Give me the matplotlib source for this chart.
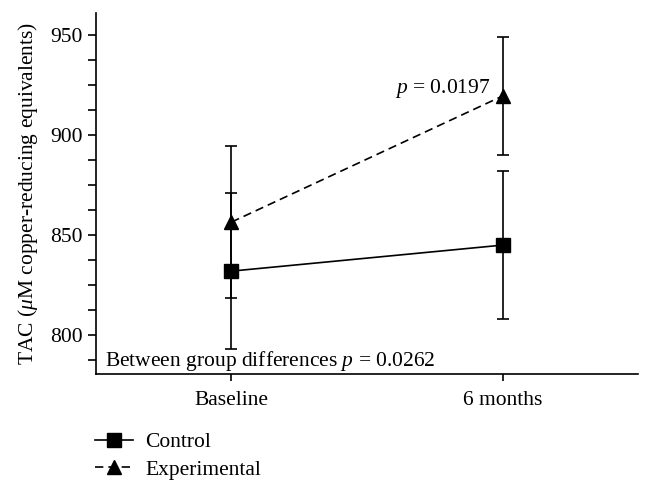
import matplotlib
matplotlib.use("Agg")
import matplotlib.pyplot as plt
from matplotlib.ticker import MultipleLocator
from matplotlib.lines import Line2D

plt.rcParams['font.family'] = ['Liberation Serif', 'DejaVu Serif']
plt.rcParams['mathtext.fontset'] = 'custom'
plt.rcParams['mathtext.it'] = 'Liberation Serif:italic'
plt.rcParams['mathtext.rm'] = 'Liberation Serif'

categories = ["Baseline", "6 months"]
control_mean = [832, 845]
control_err = [39, 37]
exp_mean = [856.5, 919.5]
exp_err = [38, 29.5]

FS = 15.5
fig = plt.figure(figsize=(6.52, 4.95), dpi=100)
ax = fig.add_axes([0.147, 0.244, 0.832, 0.730])

x = [1, 2]
dash = (0, (5, 3))
ax.errorbar(x, control_mean, yerr=control_err, color='black', lw=1.2,
            marker='s', markersize=10.5, capsize=4.6, capthick=1.2,
            elinewidth=1.2, linestyle='-')
ax.errorbar(x, exp_mean, yerr=exp_err, color='black', lw=1.2,
            marker='^', markersize=10.5, capsize=4.6, capthick=1.2,
            elinewidth=1.2, linestyle=dash)

ax.set_xlim(0.5, 2.5)
ax.set_ylim(780.5, 961)
ax.set_xticks(x)
ax.set_xticklabels(categories, fontsize=FS)
ax.yaxis.set_major_locator(MultipleLocator(50))
ax.yaxis.set_minor_locator(MultipleLocator(12.5))
ax.tick_params(axis='y', which='major', length=6, labelsize=FS, width=1.2)
ax.tick_params(axis='y', which='minor', length=6, width=1.2)
ax.tick_params(axis='x', length=5, width=1.2, pad=7)
for s in ['top', 'right']:
    ax.spines[s].set_visible(False)
for s in ['left', 'bottom']:
    ax.spines[s].set_linewidth(1.2)

ax.set_ylabel(r'TAC ($\mu$M copper-reducing equivalents)', fontsize=FS, labelpad=7)

ax.text(1.954, 921, r'$p$ = 0.0197', fontsize=FS, ha='right', va='baseline')
ax.text(0.533, 784.5, r'Between group differences $p$ = 0.0262', fontsize=FS,
        ha='left', va='baseline')

handles = [
    Line2D([], [], color='black', lw=1.2, marker='s', markersize=10, linestyle='-'),
    Line2D([], [], color='black', lw=1.2, marker='^', markersize=10, linestyle=dash),
]
fig.legend(handles, ['Control', 'Experimental'], loc='upper left',
           bbox_to_anchor=(0.146, 0.127), frameon=False, fontsize=FS,
           handlelength=1.77, handletextpad=0.56, labelspacing=0.36,
           borderaxespad=0, borderpad=0)

fig.savefig('out.png', dpi=100)
